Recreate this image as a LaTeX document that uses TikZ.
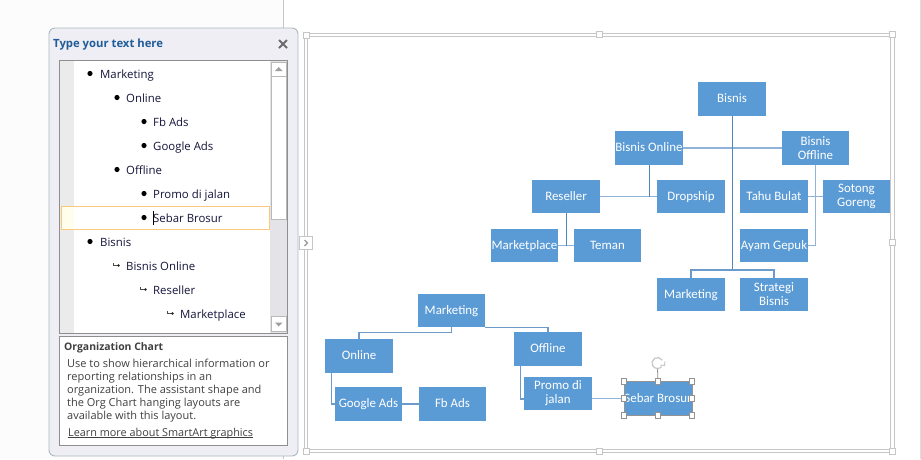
\documentclass[tikz,border=0pt]{standalone}
\usepackage{fontspec}
\setmainfont{Carlito}
\newfontfamily\panelfont{Open Sans}
\usetikzlibrary{calc}
\definecolor{boxblue}{HTML}{5B9BD5}
\definecolor{lndark}{HTML}{4F87BC}
\definecolor{lnlight}{HTML}{8FB3D9}
\definecolor{lnmid}{HTML}{6C9BCB}
\definecolor{panelbg}{HTML}{EEEEF4}
\definecolor{panelln}{HTML}{A9B9BF}
\definecolor{frameln}{HTML}{C6C6C6}
\definecolor{treeln}{HTML}{8E8E8E}
\definecolor{track}{HTML}{E3E3E8}
\definecolor{txtdark}{HTML}{14143A}
\definecolor{titleblue}{HTML}{1F5C99}
\definecolor{hilite}{HTML}{FBC97E}
\definecolor{hilitebg}{HTML}{FFFDEB}
\tikzset{
  x=1pt,y=-1pt,
  orgbox/.style={fill=boxblue,text=white,minimum width=67.5pt,minimum height=33.5pt,inner sep=0pt,align=center,font=\fontsize{12.9}{14}\selectfont},
  oneline/.style={orgbox,text height=10pt,text depth=3pt},
  lv/.style={draw=lndark,line width=1pt},
  lh/.style={draw=lnlight,line width=1.4pt},
  lm/.style={draw=lnmid,line width=1.1pt},
  frm/.style={draw=frameln,line width=.9pt},
  hnd/.style={draw=frameln,fill=white,line width=.9pt,minimum size=6pt,inner sep=0pt},
  sel/.style={draw=gray!85,fill=white,line width=.8pt,minimum size=5.5pt,inner sep=0pt},
  item/.style={anchor=base west,inner sep=0pt,text=txtdark,font=\panelfont\fontsize{11.4}{13}\selectfont},
  dotb/.style={fill=black,circle,inner sep=0pt,minimum size=5.2pt},
  arrb/.style={draw=black!70,line width=.6pt},
  arrd/.style={fill=black!85,circle,inner sep=0pt,minimum size=2.6pt},
}
\begin{document}
\begin{tikzpicture}
\useasboundingbox (0,0) rectangle (921,459);
\fill[white] (0,0) rectangle (921,459);
\fill[black!1] (0,0) rectangle (283,459);
\draw[frameln,line width=.8pt] (283,0) -- (283,459);
\draw[frameln!60,line width=.8pt] (920.5,0) -- (920.5,459);
% canvas frame
\draw[frm] (304,33.5) rectangle (894,452);
\draw[frm] (307,36.5) rectangle (890.5,449.5);
\node[hnd] (h1) at (306,35) {};
\node[hnd] (h2) at (892,34.5) {};
\node[hnd] (h3) at (892,451) {};
\node[hnd] (h4) at (306,451) {};
\node[hnd] (h5) at (599,34.5) {};
\node[hnd] (h6) at (599,451) {};
\node[hnd] (h7) at (892,242.5) {};
\node[draw=frameln,fill=white,line width=.9pt,minimum width=13pt,minimum height=12.5pt,inner sep=0pt] (coll) at (306,243) {};
\draw[gray!80,line width=1.3pt] (304.5,240) -- (307.5,243) -- (304.5,246);
% text pane
\draw[panelln,fill=panelbg,line width=.9pt,rounded corners=6pt] (49,28) rectangle (298,456);
\node[anchor=west,inner sep=0pt,text=titleblue,font=\panelfont\bfseries\fontsize{11.3}{13}\selectfont] (title) at (53,44.5) {Type your text here};
\draw[gray!85!black,line width=1.9pt] (279,40) -- (287,48) (287,40) -- (279,48);
\draw[treeln,fill=white,line width=.9pt] (59.5,60) rectangle (287.5,333.5);
\fill[black!8] (60,60.5) rectangle (74,333);
\fill[track] (270,60.5) rectangle (287,333);
\fill[white] (272,77) rectangle (286,219);
\draw[gray!55,line width=.7pt] (271.5,62.5) rectangle (286,219);
\draw[gray!55,line width=.7pt,fill=white] (271.5,62.5) rectangle (286,76);
\fill[gray!75] (275,71) -- (278.7,67) -- (282.5,71) -- cycle;
\draw[gray!55,line width=.7pt,fill=white] (271.5,316.5) rectangle (286,331);
\fill[gray!75] (275,322.5) -- (282.5,322.5) -- (278.7,326.5) -- cycle;
% highlighted row
\draw[hilite,fill=white,line width=.8pt] (61.5,206) rectangle (269,229.5);
\fill[hilitebg] (62,206.5) rectangle (74,229);
% tree items
\node[item] (t1) at (100,78) {Marketing};
\node[item] (t2) at (126,102) {Online};
\node[item] (t3) at (153,126) {Fb Ads};
\node[item] (t4) at (153,150) {Google Ads};
\node[item] (t5) at (126,174) {Offline};
\node[item] (t6) at (153,198) {Promo di jalan};
\node[item] (t7) at (153,222) {Sebar Brosur};
\node[item] (t8) at (100,246) {Bisnis};
\node[item] (t9) at (126,270) {Bisnis Online};
\node[item] (t10) at (153,294) {Reseller};
\node[item] (t11) at (180,318) {Marketplace};
\node[dotb] (b1) at (90,73.5) {};
\node[dotb] (b2) at (117,97.5) {};
\node[dotb] (b3) at (144,121.5) {};
\node[dotb] (b4) at (144,145.5) {};
\node[dotb] (b5) at (117,169.5) {};
\node[dotb] (b6) at (144,193.5) {};
\node[dotb] (b7) at (144,217.5) {};
\node[dotb] (b8) at (90,241.5) {};
\draw[black,line width=.7pt] (153.5,211) -- (153.5,225);
\draw[arrb] (113.5,262.5) -- (113.5,265.5) -- (118,265.5);
\node[arrd] (a1) at (118.5,265.5) {};
\draw[arrb] (140.5,286.5) -- (140.5,289.5) -- (145,289.5);
\node[arrd] (a2) at (145.5,289.5) {};
\draw[arrb] (167.5,310.5) -- (167.5,313.5) -- (172,313.5);
\node[arrd] (a3) at (172.5,313.5) {};
% description
\draw[treeln,fill=white,line width=.9pt] (59.5,336.5) rectangle (287.5,445.5);
\node[anchor=west,inner sep=0pt,text=black!75,font=\panelfont\bfseries\fontsize{10.4}{13}\selectfont] (dt) at (64,347.5) {Organization Chart};
\node[anchor=north west,inner sep=0pt,align=left,text=black!75,font=\panelfont\fontsize{11}{13}\selectfont] (dd) at (67,358.5) {Use to show hierarchical information or\\reporting relationships in an\\organization. The assistant shape and\\the Org Chart hanging layouts are\\available with this layout.};
\node[anchor=base west,inner sep=0pt,text=black!75,font=\panelfont\fontsize{10.85}{13}\selectfont] (learn) at (68,436) {\underline{\smash{Learn more about SmartArt graphics}}};
% org chart nodes
\node[oneline] (bisnis) at (732,99) {Bisnis};
\node[oneline] (bon) at (649,148) {Bisnis Online};
\node[orgbox] (boff) at (815.5,148) {Bisnis\\Offline};
\node[oneline] (res) at (566,196.5) {Reseller};
\node[oneline] (drop) at (691,196.5) {Dropship};
\node[oneline] (tahu) at (774,196.5) {Tahu Bulat};
\node[orgbox] (sotong) at (856.5,196.5) {Sotong\\Goreng};
\node[oneline] (mplace) at (524.5,245.5) {Marketplace};
\node[oneline] (teman) at (607.5,245.5) {Teman};
\node[oneline] (ayam) at (774,245.5) {Ayam Gepuk};
\node[oneline] (mk2) at (691,294.5) {Marketing};
\node[orgbox] (strat) at (774,294.5) {Strategi\\Bisnis};
\node[oneline] (mk) at (451.5,310.5) {Marketing};
\node[oneline] (online) at (359,356) {Online};
\node[oneline] (offline) at (548,349) {Offline};
\node[oneline] (google) at (368.5,404) {Google Ads};
\node[oneline] (fb) at (452.5,404) {Fb Ads};
\node[orgbox] (promo) at (558,393.5) {Promo di\\jalan};
\node[oneline] (sebar) at (658,398.5) {Sebar Brosur};
% connectors
\coordinate (j1) at (732,270);
\draw[lh] (bon.east) -- (boff.west);
\draw[lh] (res.east) -- (drop.west);
\draw[lh] (mplace.east) -- (teman.west);
\draw[lh] (tahu.east) -- (sotong.west);
\draw[lh] (promo.east |- sebar.west) -- (sebar.west);
\draw[lm] (google.east) -- (fb.west);
\draw[lv] (bisnis.south) -- (j1);
\draw[lm] (mk2.north) |- (j1) -| (strat.north);
\draw[lv] (bon.south) -- (bon.south |- drop.west);
\draw[lv] (res.south) -- (res.south |- teman.west);
\draw[lh] (boff.south) |- (ayam.east);
\draw[lm] (mk.south) -- ++(0,5) -| (online.north);
\draw[lm] (mk.south east) -| (offline.north);
\draw[lm] ([xshift=6pt]online.south west) |- (google.west);
\draw[lm] ([xshift=6pt]offline.south west) |- ([yshift=-5.5pt]promo.west);
% selection handles
\draw[gray!85,line width=.8pt] (sebar.south west) rectangle (sebar.north east);
\draw[gray!85,line width=.8pt] (sebar.north) -- (657.5,369);
\draw[gray!45,line width=1.2pt] (662.26,360.25) arc[start angle=30,end angle=320,radius=5.5pt];
\draw[gray!45,line width=1pt] (665,361.5) -- (664.5,365.5) -- (660.5,365);
\node[sel] (s1) at (sebar.north west) {};
\node[sel] (s2) at (sebar.north) {};
\node[sel] (s3) at (sebar.north east) {};
\node[sel] (s4) at (sebar.west) {};
\node[sel] (s5) at (sebar.east) {};
\node[sel] (s6) at (sebar.south west) {};
\node[sel] (s7) at (sebar.south) {};
\node[sel] (s8) at (sebar.south east) {};
\end{tikzpicture}
\end{document}
